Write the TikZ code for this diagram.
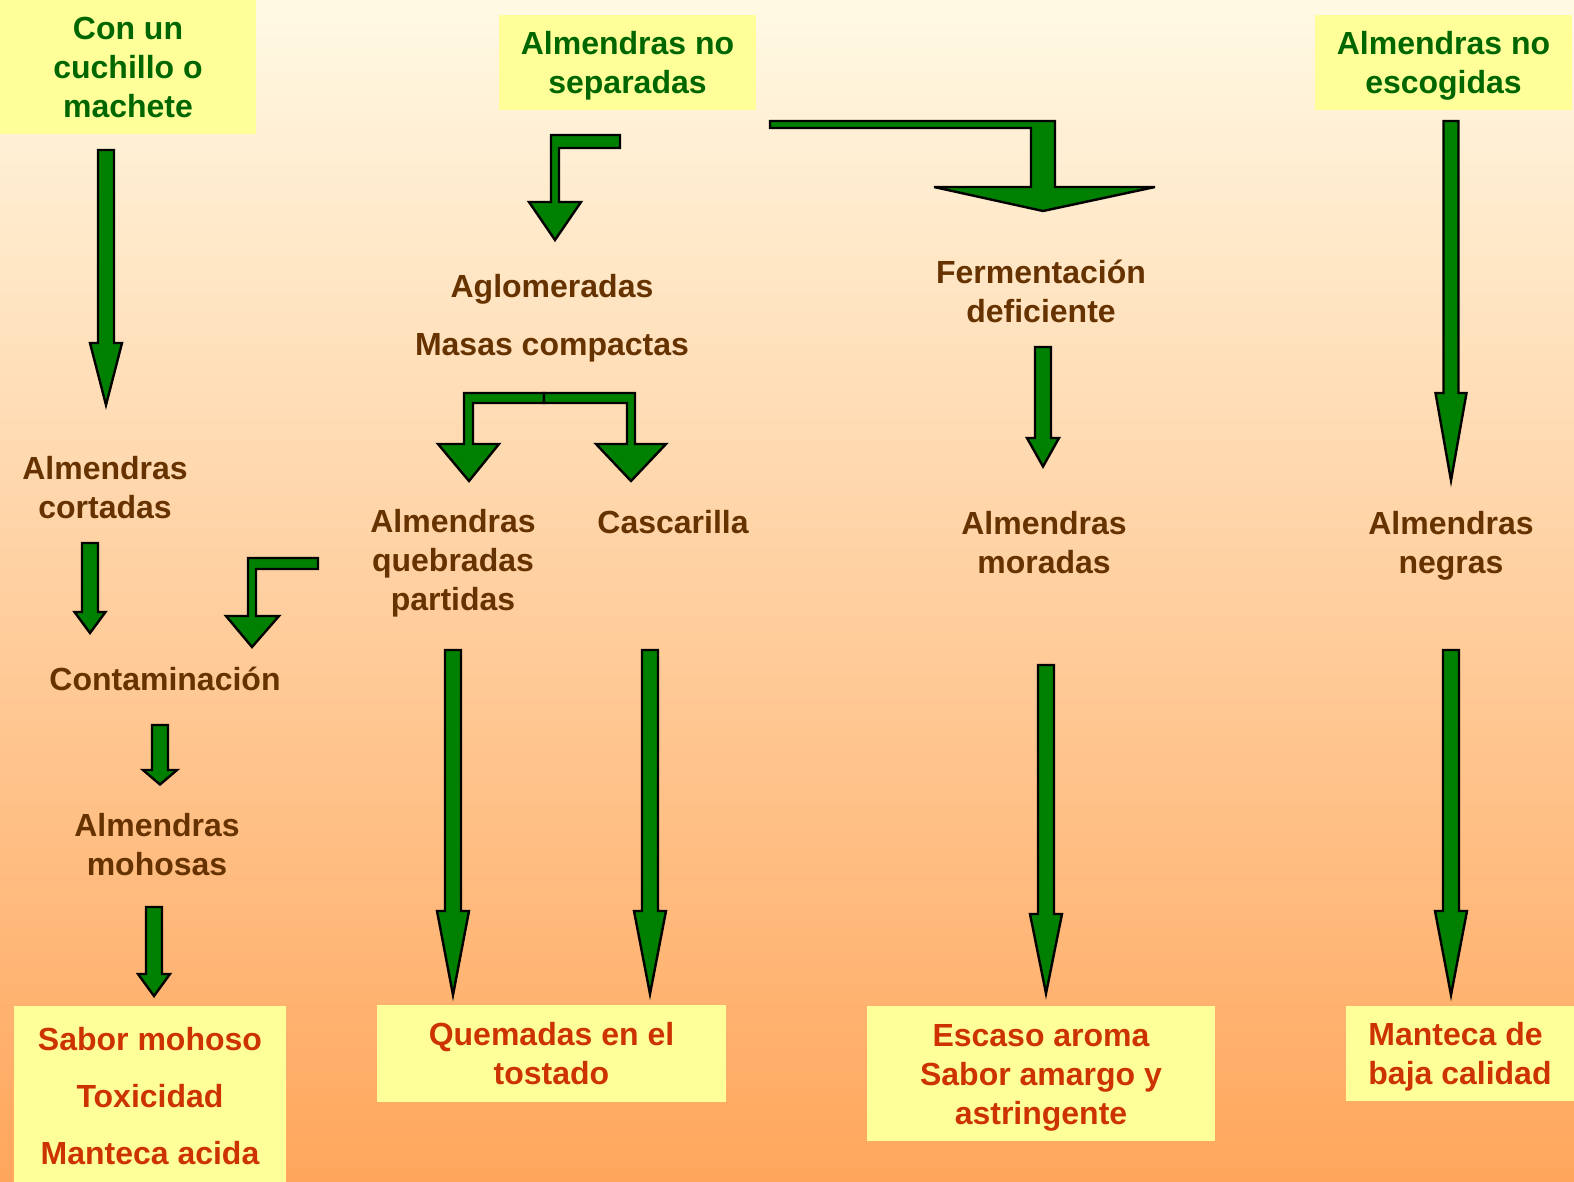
\documentclass[tikz,border=0pt]{standalone}
\usepackage{fontspec}
\setmainfont{Liberation Sans}
\usetikzlibrary{calc}
\definecolor{bgtop}{RGB}{255,249,228}
\definecolor{bgbot}{RGB}{255,166,92}
\definecolor{boxfill}{RGB}{255,255,153}
\definecolor{tgreen}{RGB}{0,102,0}
\definecolor{tbrown}{RGB}{102,51,0}
\definecolor{tred}{RGB}{204,51,0}
\definecolor{agreen}{RGB}{0,128,0}
\newcommand\tstrut{\rule[-7pt]{0pt}{37.8pt}}
% multi-line text block with fixed geometry
\newcommand\mlc[1]{\begin{tabular}{@{}c@{}}\rule{0pt}{35.5pt}#1\end{tabular}}
\newcommand\mll[1]{\begin{tabular}{@{}l@{}}\rule{0pt}{35.5pt}#1\end{tabular}}
\tikzset{
  txt/.style={font=\fontsize{32}{39}\selectfont\bfseries, inner sep=0pt,
    execute at begin node=\tstrut},
  lbl/.style={txt, text=tbrown},
  topbox/.style={txt, text=tgreen, fill=boxfill},
  botbox/.style={txt, text=tred, fill=boxfill},
  blockarrow/.style={fill=agreen, draw=black, line width=2.4pt, line join=miter},
}
% straight block arrow: start, tip, half shaft, half head, head length
\newcommand\blk[5]{%
  \draw[blockarrow] ($(#1)+(-#3,0)$) -- ($(#1)+(#3,0)$) -- ($(#2)+(#3,-#5)$) --
    ($(#2)+(#4,-#5)$) -- (#2) -- ($(#2)+(-#4,-#5)$) -- ($(#2)+(-#3,-#5)$) -- cycle;}
\begin{document}
\begin{tikzpicture}[x=1pt,y=-1pt]
\shade[top color=bgtop, bottom color=bgbot] (0,0) rectangle (1574,1181);
\useasboundingbox (0,0) rectangle (1574,1181);

% top boxes
\node[topbox, minimum width=256pt, minimum height=134pt] (t1) at (128,67) {\mlc{Con un\\cuchillo o\\machete}};
\node[topbox, minimum width=257pt, minimum height=95pt] (t2) at (627.5,62.5) {\mlc{Almendras no\\separadas}};
\node[topbox, minimum width=257pt, minimum height=95pt] (t3) at (1443.5,62.5) {\mlc{Almendras no\\escogidas}};

% bottom boxes
\node[botbox, minimum width=272pt, minimum height=179pt] (b1) at (150,1095.5) {\mlc{Sabor mohoso\\[18pt]Toxicidad\\[18pt]Manteca acida}};
\node[botbox, minimum width=349pt, minimum height=97pt] (b2) at (551.5,1053.5) {\mlc{Quemadas en el\\tostado}};
\node[botbox, minimum width=348pt, minimum height=135pt] (b3) at (1041,1073.5) {\mlc{Escaso aroma\\Sabor amargo y\\astringente}};
\node[botbox, minimum width=228pt, minimum height=95pt] (b4) at (1460,1053.5) {\mll{Manteca de\\baja calidad}};

% labels
\node[lbl] (agl) at (552,315) {\mlc{Aglomeradas\\[19pt]Masas compactas}};
\node[lbl] (ferm) at (1041,291) {\mlc{Fermentación\\deficiente}};
\node[lbl] (cort) at (105,487) {\mlc{Almendras\\cortadas}};
\node[lbl] (cont) at (165,679) {Contaminación};
\node[lbl] (moh) at (157,844) {\mlc{Almendras\\mohosas}};
\node[lbl] (queb) at (453,560) {\mlc{Almendras\\quebradas\\partidas}};
\node[lbl] (casc) at (673,522) {Cascarilla};
\node[lbl] (mor) at (1044,542) {\mlc{Almendras\\moradas}};
\node[lbl] (neg) at (1451,542) {\mlc{Almendras\\negras}};

% straight arrows
\coordinate (a1s) at (106,150);  \coordinate (a1e) at (106,405);
\coordinate (a2s) at (90,543);   \coordinate (a2e) at (90,633);
\coordinate (a4s) at (160,725);  \coordinate (a4e) at (160,784.5);
\coordinate (a5s) at (154,907);  \coordinate (a5e) at (154,996);
\coordinate (a9s) at (453,650);  \coordinate (a9e) at (453,995);
\coordinate (a10s) at (650,650); \coordinate (a10e) at (650,994);
\coordinate (a11s) at (1043,347); \coordinate (a11e) at (1043,466.5);
\coordinate (a12s) at (1046,665); \coordinate (a12e) at (1046,993.5);
\coordinate (a13s) at (1451,121); \coordinate (a13e) at (1451,480.5);
\coordinate (a14s) at (1451,650); \coordinate (a14e) at (1451,995);
\blk{a1s}{a1e}{8}{16}{62}
\blk{a2s}{a2e}{8}{15.5}{21}
\blk{a4s}{a4e}{8}{17}{14.5}
\blk{a5s}{a5e}{8}{16}{22}
\blk{a9s}{a9e}{8}{16}{84}
\blk{a10s}{a10e}{8}{16}{83}
\blk{a11s}{a11e}{8}{16}{28.5}
\blk{a12s}{a12e}{8}{16}{79.5}
\blk{a13s}{a13e}{7.5}{15.5}{87.5}
\blk{a14s}{a14e}{8}{16}{84}

% bent arrows
\draw[blockarrow] (318,558) -- (248,558) -- (248,616) -- (226,616) -- (252,647) -- (279,616) -- (256,616) -- (256,569) -- (318,569) -- cycle;
\draw[blockarrow] (620,135) -- (551,135) -- (551,202) -- (529,202) -- (555,240) -- (581,202) -- (559,202) -- (559,148) -- (620,148) -- cycle;
\draw[blockarrow, miter limit=3] (770,121) -- (1055,121) -- (1055,187) -- (1155,187) -- (1043,211) -- (934,187) -- (1031,187) -- (1031,128) -- (770,128) -- cycle;
\draw[blockarrow] (544,393) -- (464,393) -- (464,444) -- (438,444) -- (469,481) -- (499,444) -- (473,444) -- (473,403) -- (544,403) -- cycle;
\draw[blockarrow] (544,393) -- (635,393) -- (635,444) -- (666,444) -- (631,481) -- (596,444) -- (627,444) -- (627,403) -- (544,403) -- cycle;
\end{tikzpicture}
\end{document}
